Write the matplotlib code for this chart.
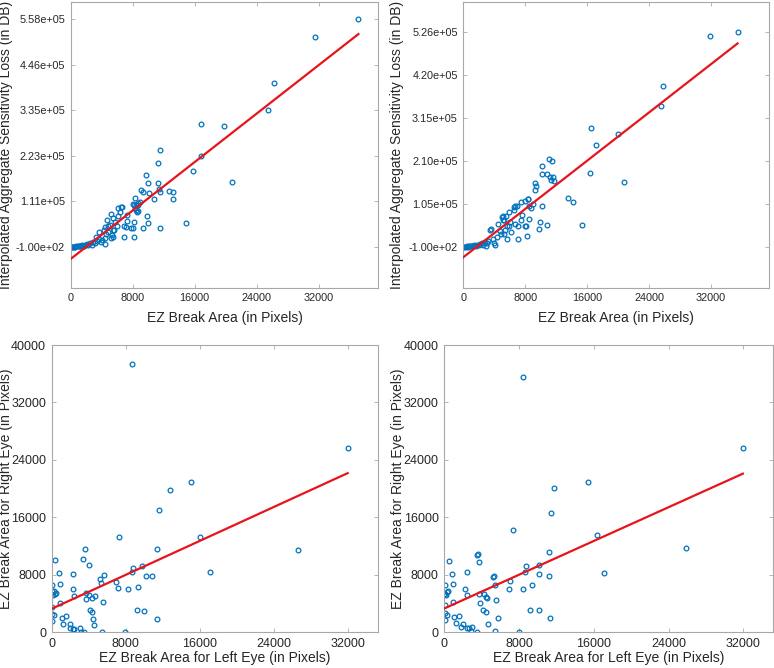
import numpy as np
import matplotlib
matplotlib.use('Agg')
import matplotlib.pyplot as plt
from matplotlib.ticker import FormatStrFormatter

plt.rcParams['font.family'] = ['Liberation Sans', 'DejaVu Sans']

# top left: EZ break area vs interpolated aggregate sensitivity loss
tl_x = [0, 150, 300, 450, 600, 750, 900, 1050, 1200, 1350, 1500, 1700, 1900, 2100,
        2300, 2500, 2700, 2900, 3100, 3300, 3400, 3600, 3700, 3900, 4100, 4300, 4400,
        4480, 4480, 4600, 4740, 4830, 4850, 5050, 5180, 5200, 5390, 5410, 5440, 5520,
        5610, 5740, 6020, 6090, 6170, 6330, 6480, 6650, 6870, 6900, 7100, 7255, 7290,
        7810, 8000, 8070, 8160, 8200, 8200, 8240, 8300, 8400, 8420, 8500, 8650, 8630,
        8700, 8890, 9090, 9300, 9365, 9665, 9845, 9975, 10030, 10160, 10750, 11250,
        11270, 11440, 11480, 11480, 11500, 12680, 13160, 13230, 14920, 15780, 16860,
        16880, 19730, 20860, 25470, 26250, 31560, 37130]
tl_y = [-100, 0, 200, 500, 300, 900, 600, 1500, 2500, 1800, 3500, 2200, 4500, 6000,
        3000, 8000, 5000, 11000, 8700, 24400, 14000, 18500, 35600, 12000, 17700, 40000,
        48000, 6200, 22600, 30000, 66700, 37000, 51000, 53700, 80700, 22000, 29300,
        22700, 69500, 39800, 42200, 59400, 51200, 76500, 94300, 85000, 96800, 98500,
        51900, 22700, 48000, 63500, 76600, 45400, 104000, 45000, 23400, 60000, 101500,
        118500, 96000, 101500, 90500, 84000, 102500, 108300, 88000, 110800, 138000,
        133600, 45400, 176900, 74100, 57000, 155200, 132900, 117800, 156600, 204600,
        142300, 133600, 46400, 236400, 136500, 117000, 134100, 58200, 186700, 222500,
        300000, 296800, 159800, 334300, 400300, 513900, 557700]

# top right
tr_x = [0, 150, 300, 450, 600, 750, 900, 1050, 1200, 1400, 1600, 1800, 2000, 2200,
        2400, 2600, 2800, 2900, 3000, 3200, 3400, 3570, 3800, 3960, 4100, 4300, 4520,
        4700, 4900, 5000, 5080, 5150, 5200, 5250, 5400, 5500, 5640, 5700, 5860, 5900,
        6000, 6200, 6540, 6580, 6630, 6630, 6890, 7060, 7100, 7400, 7500, 7610, 7960,
        7960, 8100, 8220, 8300, 8380, 8480, 8500, 8700, 9000, 9210, 9290, 9420, 9770,
        9890, 10110, 10110, 10190, 10800, 10840, 11060, 11200, 11300, 11400, 11600,
        11700, 13510, 14110, 15350, 16340, 16470, 17160, 20000, 20770, 25590, 25800,
        31910, 35440]
tr_y = [-100, 100, 300, 800, 400, 1200, 700, 2000, 1500, 3000, 2200, 4500, 3500, 6000,
        9000, 5000, 12000, 2000, 8000, 15000, 40000, 43000, 20000, 8700, 5000, 25000,
        56200, 38000, 32000, 74000, 64300, 76500, 30000, 64300, 42000, 76500, 49600,
        17800, 49600, 84000, 60000, 35000, 96800, 89500, 100200, 54500, 100200, 51300,
        17800, 64300, 110000, 78200, 50300, 113200, 50300, 26800, 118100, 118100, 68400,
        100000, 95000, 104000, 139400, 156500, 148200, 43000, 60100, 100200, 178600,
        197100, 178600, 53700, 215300, 170000, 163000, 210400, 172000, 161000, 118800,
        110000, 52800, 181000, 291100, 248500, 277200, 159700, 345700, 394000, 516300,
        525600]

# bottom left: left eye vs right eye
bl_x = [8710, 31990, 15050, 12750, 11560, 16000, 7300, 26590, 11350, 3600, 390, 3420,
        4060, 9760, 8820, 8680, 17070, 750, 2270, 10150, 10880, 5650, 5180, 6990, 5300,
        930, 0, 7130, 8250, 9360, 2270, 0, 290, 460, 100, 340, 3740, 2410, 4060, 4320,
        4650, 3710, 5580, 930, 30, 4110, 4390, 9220, 9940, 4500, 11350, 0, 290, 1580,
        1080, 0, 1250, 1950, 4540, 1930, 2270, 2410, 3060, 3170, 3520, 5430, 7920]
bl_y = [37340, 25610, 20950, 19830, 16990, 13220, 13270, 11500, 11540, 11600, 10060,
        10140, 9400, 9300, 8980, 8380, 8380, 8280, 8190, 7820, 7910, 8000, 7450, 7030,
        6850, 6750, 6570, 6150, 6100, 6330, 6100, 5700, 5800, 5500, 5200, 5400, 5490,
        5070, 5170, 4830, 5070, 4690, 4230, 4090, 3580, 3160, 2790, 3160, 2980, 1860,
        1860, 2600, 2420, 2280, 2040, 1620, 1200, 1120, 1060, 600, 460, 500, 600, 40, 0,
        40, 0]

# bottom right
br_x = [8390, 31960, 15380, 11710, 11420, 7350, 16340, 25830, 11170, 3530, 3600, 470,
        3750, 8740, 10170, 8600, 2400, 790, 17120, 10130, 11230, 5310, 5210, 7060, 960,
        70, 5460, 9420, 6890, 8420, 2250, 430, 300, 100, 200, 0, 2460, 3680, 4220, 4430,
        4540, 5530, 960, 3820, 110, 9170, 10130, 4110, 4430, 5780, 11340, 40, 320, 1600,
        1070, 40, 1250, 1970, 4640, 1820, 2460, 2680, 2960, 2850, 3470, 5460, 7960]
br_y = [35570, 25650, 20860, 20060, 16570, 14250, 13590, 11780, 11120, 10800, 10900,
        10000, 9780, 9300, 9400, 8380, 8330, 8190, 8280, 8100, 7820, 7820, 7680, 7120,
        6700, 6610, 6650, 6570, 6100, 6050, 6100, 5770, 5600, 5400, 5210, 5300, 5210,
        5390, 5350, 4930, 4790, 4510, 4230, 4140, 3770, 3160, 3160, 3070, 2880, 2040,
        1960, 2650, 2460, 2320, 2100, 1760, 1260, 1160, 1200, 700, 600, 600, 740, 180,
        80, 220, 80]

BLUE = '#0072BD'
RED = '#E8141B'
GRID = '#a8a8a8'
TXT = '#262626'


def scatter_fit(ax, x, y):
    x = np.array(x, dtype=float)
    y = np.array(y, dtype=float)
    ax.plot(x, y, 'o', ms=3.4, mfc='none', mec=BLUE, mew=0.9, zorder=2)
    p = np.polyfit(x, y, 1)
    xs = np.array([x.min(), x.max()])
    ax.plot(xs, np.polyval(p, xs), color=RED, lw=1.6, zorder=3)


def style(ax, fs):
    for s in ax.spines.values():
        s.set_color(GRID)
        s.set_linewidth(0.8)
    ax.tick_params(direction='in', length=3, width=0.6, color=GRID, labelcolor=TXT,
                   labelsize=fs, top=True, right=True, pad=4)


fig = plt.figure(figsize=(7.74, 6.68), dpi=100)

ax1 = fig.add_axes([0.0913, 0.5696, 0.3975, 0.4274])
ax2 = fig.add_axes([0.5986, 0.5696, 0.3949, 0.4274])
ax3 = fig.add_axes([0.0668, 0.0534, 0.4220, 0.4301])
ax4 = fig.add_axes([0.5740, 0.0534, 0.4243, 0.4301])

for ax, x, y, xr in [(ax1, tl_x, tl_y, 39700), (ax2, tr_x, tr_y, 39500)]:
    scatter_fit(ax, x, y)
    style(ax, 7.8)
    ax.set_xlim(0, xr)
    ax.set_ylim(-1e5, 6e5)
    ax.set_xticks([0, 8000, 16000, 24000, 32000])
    ax.set_yticks(np.linspace(min(y), max(y), 6))
    ax.yaxis.set_major_formatter(FormatStrFormatter('%.2e'))
    ax.set_xlabel('EZ Break Area (in Pixels)', fontsize=10, color=TXT)
    ax.set_ylabel('Interpolated Aggregate Sensitivity Loss (in DB)', fontsize=10, color=TXT)
    ax.xaxis.set_label_coords(0.5, -0.082)
ax1.yaxis.set_label_coords(-0.186, 0.5)
ax2.yaxis.set_label_coords(-0.194, 0.5)

for ax, x, y, xr in [(ax3, bl_x, bl_y, 35300), (ax4, br_x, br_y, 35150)]:
    scatter_fit(ax, x, y)
    style(ax, 9)
    ax.set_xlim(0, xr)
    ax.set_ylim(0, 40000)
    ax.set_xticks([0, 8000, 16000, 24000, 32000])
    ax.set_yticks([0, 8000, 16000, 24000, 32000, 40000])
    ax.set_xlabel('EZ Break Area for Left Eye (in Pixels)', fontsize=10, color=TXT)
    ax.set_ylabel('EZ Break Area for Right Eye (in Pixels)', fontsize=10, color=TXT)
    ax.xaxis.set_label_coords(0.5, -0.065)
ax3.yaxis.set_label_coords(-0.117, 0.5)
ax4.yaxis.set_label_coords(-0.120, 0.5)

fig.savefig('out.png', dpi=100)
